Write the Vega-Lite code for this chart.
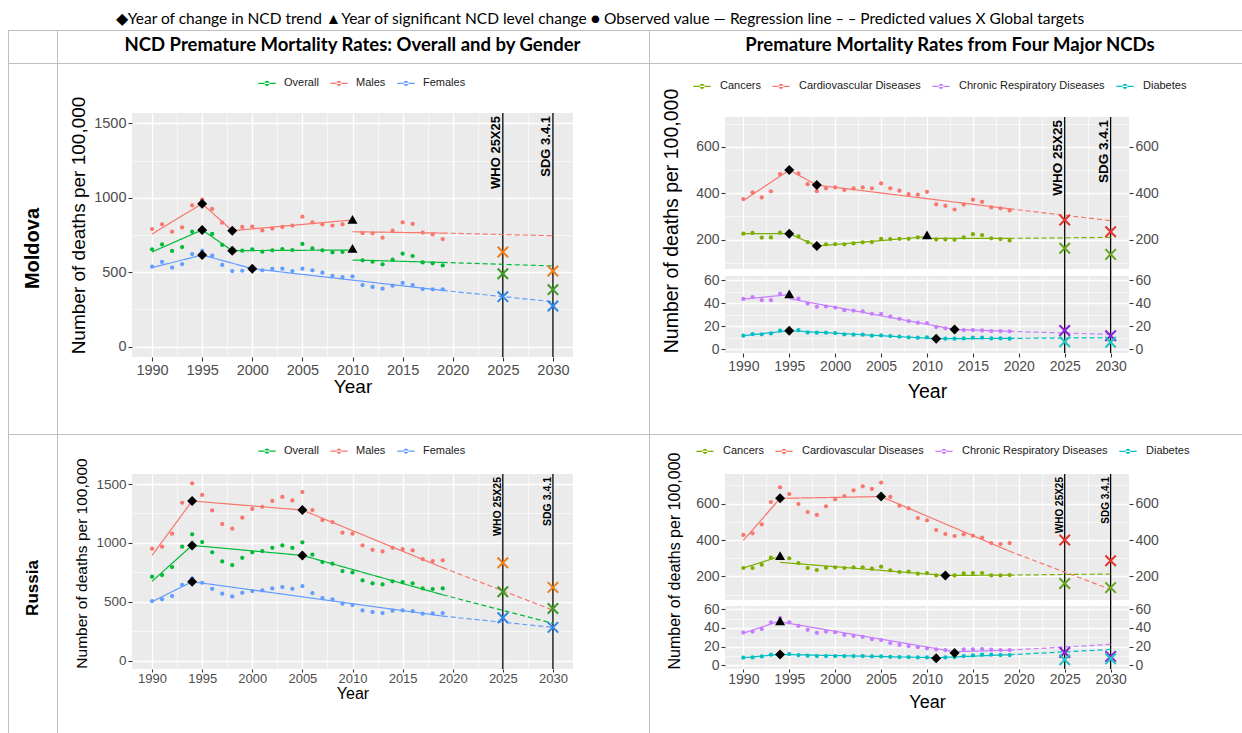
{
"$schema": "https://vega.github.io/schema/vega-lite/v6.json",
"padding": 0,
"background": "white",
"columns": 11,
"spacing": 0,
"bounds": "flush",
"resolve": {
  "scale": {"color": "independent", "stroke": "independent", "shape": "independent", "strokeDash": "independent"},
  "legend": {"color": "independent", "stroke": "independent", "shape": "independent", "strokeDash": "independent"}
},
"config": {
  "view": {"stroke": null},
  "font": "Liberation Sans",
  "axis": {"domain": false, "tickColor": "#333333", "tickSize": 4, "tickWidth": 1.1, "labelColor": "#4D4D4D", "labelFont": "Liberation Sans", "labelPadding": 2, "titleFont": "Liberation Sans", "titleFontWeight": "normal", "titleColor": "#000000", "gridColor": "#FFFFFF", "labelOverlap": false, "labelFlush": false, "labelBound": false},
  "legend": {"labelFont": "Liberation Sans", "labelFontSize": 11, "labelColor": "#1A1A1A", "padding": 0}
},
"datasets": {
  "none": [],
  "goals": [{"goal": "WHO 25X25", "year": 2025}, {"goal": "SDG 3.4.1", "year": 2030}],
  "md_g_obs": [
    {"series":"Males","year":1990,"rate":790},{"series":"Males","year":1991,"rate":822},{"series":"Males","year":1992,"rate":772},{"series":"Males","year":1993,"rate":801},{"series":"Males","year":1994,"rate":949},{"series":"Males","year":1995,"rate":988},{"series":"Males","year":1996,"rate":925},{"series":"Males","year":1997,"rate":833},{"series":"Males","year":1998,"rate":784},{"series":"Males","year":1999,"rate":804},{"series":"Males","year":2000,"rate":806},{"series":"Males","year":2001,"rate":781},{"series":"Males","year":2002,"rate":793},{"series":"Males","year":2003,"rate":804},{"series":"Males","year":2004,"rate":813},{"series":"Males","year":2005,"rate":873},{"series":"Males","year":2006,"rate":835},{"series":"Males","year":2007,"rate":822},{"series":"Males","year":2008,"rate":813},{"series":"Males","year":2009,"rate":822},{"series":"Males","year":2010,"rate":850},{"series":"Males","year":2011,"rate":763},{"series":"Males","year":2012,"rate":761},{"series":"Males","year":2013,"rate":732},{"series":"Males","year":2014,"rate":779},{"series":"Males","year":2015,"rate":835},{"series":"Males","year":2016,"rate":824},{"series":"Males","year":2017,"rate":766},{"series":"Males","year":2018,"rate":754},{"series":"Males","year":2019,"rate":723},
    {"series":"Overall","year":1990,"rate":654},{"series":"Overall","year":1991,"rate":687},{"series":"Overall","year":1992,"rate":643},{"series":"Overall","year":1993,"rate":669},{"series":"Overall","year":1994,"rate":772},{"series":"Overall","year":1995,"rate":797},{"series":"Overall","year":1996,"rate":757},{"series":"Overall","year":1997,"rate":683},{"series":"Overall","year":1998,"rate":645},{"series":"Overall","year":1999,"rate":645},{"series":"Overall","year":2000,"rate":654},{"series":"Overall","year":2001,"rate":638},{"series":"Overall","year":2002,"rate":647},{"series":"Overall","year":2003,"rate":656},{"series":"Overall","year":2004,"rate":649},{"series":"Overall","year":2005,"rate":690},{"series":"Overall","year":2006,"rate":660},{"series":"Overall","year":2007,"rate":647},{"series":"Overall","year":2008,"rate":634},{"series":"Overall","year":2009,"rate":636},{"series":"Overall","year":2010,"rate":655},{"series":"Overall","year":2011,"rate":580},{"series":"Overall","year":2012,"rate":571},{"series":"Overall","year":2013,"rate":553},{"series":"Overall","year":2014,"rate":584},{"series":"Overall","year":2015,"rate":625},{"series":"Overall","year":2016,"rate":609},{"series":"Overall","year":2017,"rate":566},{"series":"Overall","year":2018,"rate":560},{"series":"Overall","year":2019,"rate":546},
    {"series":"Females","year":1990,"rate":537},{"series":"Females","year":1991,"rate":569},{"series":"Females","year":1992,"rate":531},{"series":"Females","year":1993,"rate":555},{"series":"Females","year":1994,"rate":622},{"series":"Females","year":1995,"rate":643},{"series":"Females","year":1996,"rate":611},{"series":"Females","year":1997,"rate":549},{"series":"Females","year":1998,"rate":508},{"series":"Females","year":1999,"rate":510},{"series":"Females","year":2000,"rate":524},{"series":"Females","year":2001,"rate":513},{"series":"Females","year":2002,"rate":522},{"series":"Females","year":2003,"rate":524},{"series":"Females","year":2004,"rate":508},{"series":"Females","year":2005,"rate":524},{"series":"Females","year":2006,"rate":513},{"series":"Females","year":2007,"rate":497},{"series":"Females","year":2008,"rate":475},{"series":"Females","year":2009,"rate":468},{"series":"Females","year":2010,"rate":472},{"series":"Females","year":2011,"rate":414},{"series":"Females","year":2012,"rate":401},{"series":"Females","year":2013,"rate":390},{"series":"Females","year":2014,"rate":410},{"series":"Females","year":2015,"rate":428},{"series":"Females","year":2016,"rate":414},{"series":"Females","year":2017,"rate":387},{"series":"Females","year":2018,"rate":385},{"series":"Females","year":2019,"rate":385}
  ],
  "md_g_fit": [
    {"series":"Males","seg":1,"part":"fit","year":1990,"rate":757},{"series":"Males","seg":1,"part":"fit","year":1995,"rate":960},{"series":"Males","seg":1,"part":"fit","year":1998,"rate":779},{"series":"Males","seg":1,"part":"fit","year":2010,"rate":851},
    {"series":"Males","seg":2,"part":"fit","year":2010,"rate":772},{"series":"Males","seg":2,"part":"fit","year":2019,"rate":763},
    {"series":"Males","seg":3,"part":"pred","year":2019,"rate":763},{"series":"Males","seg":3,"part":"pred","year":2030,"rate":745},
    {"series":"Overall","seg":1,"part":"fit","year":1990,"rate":636},{"series":"Overall","seg":1,"part":"fit","year":1995,"rate":784},{"series":"Overall","seg":1,"part":"fit","year":1998,"rate":645},{"series":"Overall","seg":1,"part":"fit","year":2010,"rate":649},
    {"series":"Overall","seg":2,"part":"fit","year":2010,"rate":582},{"series":"Overall","seg":2,"part":"fit","year":2019,"rate":566},
    {"series":"Overall","seg":3,"part":"pred","year":2019,"rate":566},{"series":"Overall","seg":3,"part":"pred","year":2030,"rate":542},
    {"series":"Females","seg":1,"part":"fit","year":1990,"rate":531},{"series":"Females","seg":1,"part":"fit","year":1995,"rate":616},{"series":"Females","seg":1,"part":"fit","year":2000,"rate":524},{"series":"Females","seg":1,"part":"fit","year":2019,"rate":378},
    {"series":"Females","seg":2,"part":"pred","year":2019,"rate":378},{"series":"Females","seg":2,"part":"pred","year":2030,"rate":302}
  ],
  "md_g_ev": [
    {"series":"Males","event":"trend","year":1995,"rate":960},{"series":"Males","event":"trend","year":1998,"rate":779},
    {"series":"Overall","event":"trend","year":1995,"rate":784},{"series":"Overall","event":"trend","year":1998,"rate":645},
    {"series":"Females","event":"trend","year":1995,"rate":616},{"series":"Females","event":"trend","year":2000,"rate":524},
    {"series":"Males","event":"level","year":2010,"rate":855},{"series":"Overall","event":"level","year":2010,"rate":660}
  ],
  "md_g_tg": [
    {"series":"Males","year":2025,"rate":636},{"series":"Males","year":2030,"rate":508},
    {"series":"Overall","year":2025,"rate":490},{"series":"Overall","year":2030,"rate":383},
    {"series":"Females","year":2025,"rate":336},{"series":"Females","year":2030,"rate":273}
  ],
  "md_n_obs": [
    {"series":"Cardiovascular Diseases","year":1990,"rate":375},{"series":"Cardiovascular Diseases","year":1991,"rate":404},{"series":"Cardiovascular Diseases","year":1992,"rate":382},{"series":"Cardiovascular Diseases","year":1993,"rate":408},{"series":"Cardiovascular Diseases","year":1994,"rate":482},{"series":"Cardiovascular Diseases","year":1995,"rate":500},{"series":"Cardiovascular Diseases","year":1996,"rate":485},{"series":"Cardiovascular Diseases","year":1997,"rate":439},{"series":"Cardiovascular Diseases","year":1998,"rate":409},{"series":"Cardiovascular Diseases","year":1999,"rate":421},{"series":"Cardiovascular Diseases","year":2000,"rate":425},{"series":"Cardiovascular Diseases","year":2001,"rate":414},{"series":"Cardiovascular Diseases","year":2002,"rate":421},{"series":"Cardiovascular Diseases","year":2003,"rate":425},{"series":"Cardiovascular Diseases","year":2004,"rate":421},{"series":"Cardiovascular Diseases","year":2005,"rate":442},{"series":"Cardiovascular Diseases","year":2006,"rate":421},{"series":"Cardiovascular Diseases","year":2007,"rate":411},{"series":"Cardiovascular Diseases","year":2008,"rate":396},{"series":"Cardiovascular Diseases","year":2009,"rate":394},{"series":"Cardiovascular Diseases","year":2010,"rate":406},{"series":"Cardiovascular Diseases","year":2011,"rate":352},{"series":"Cardiovascular Diseases","year":2012,"rate":346},{"series":"Cardiovascular Diseases","year":2013,"rate":330},{"series":"Cardiovascular Diseases","year":2014,"rate":351},{"series":"Cardiovascular Diseases","year":2015,"rate":372},{"series":"Cardiovascular Diseases","year":2016,"rate":363},{"series":"Cardiovascular Diseases","year":2017,"rate":339},{"series":"Cardiovascular Diseases","year":2018,"rate":335},{"series":"Cardiovascular Diseases","year":2019,"rate":326},
    {"series":"Cancers","year":1990,"rate":226},{"series":"Cancers","year":1991,"rate":229},{"series":"Cancers","year":1992,"rate":209},{"series":"Cancers","year":1993,"rate":210},{"series":"Cancers","year":1994,"rate":230},{"series":"Cancers","year":1995,"rate":226},{"series":"Cancers","year":1996,"rate":214},{"series":"Cancers","year":1997,"rate":190},{"series":"Cancers","year":1998,"rate":175},{"series":"Cancers","year":1999,"rate":180},{"series":"Cancers","year":2000,"rate":181},{"series":"Cancers","year":2001,"rate":180},{"series":"Cancers","year":2002,"rate":184},{"series":"Cancers","year":2003,"rate":189},{"series":"Cancers","year":2004,"rate":190},{"series":"Cancers","year":2005,"rate":204},{"series":"Cancers","year":2006,"rate":203},{"series":"Cancers","year":2007,"rate":204},{"series":"Cancers","year":2008,"rate":204},{"series":"Cancers","year":2009,"rate":210},{"series":"Cancers","year":2010,"rate":212},{"series":"Cancers","year":2011,"rate":201},{"series":"Cancers","year":2012,"rate":201},{"series":"Cancers","year":2013,"rate":200},{"series":"Cancers","year":2014,"rate":210},{"series":"Cancers","year":2015,"rate":224},{"series":"Cancers","year":2016,"rate":220},{"series":"Cancers","year":2017,"rate":206},{"series":"Cancers","year":2018,"rate":203},{"series":"Cancers","year":2019,"rate":197},
    {"series":"Chronic Respiratory Diseases","year":1990,"rate":43.8},{"series":"Chronic Respiratory Diseases","year":1991,"rate":45.3},{"series":"Chronic Respiratory Diseases","year":1992,"rate":42.7},{"series":"Chronic Respiratory Diseases","year":1993,"rate":42.7},{"series":"Chronic Respiratory Diseases","year":1994,"rate":48.2},{"series":"Chronic Respiratory Diseases","year":1995,"rate":48.0},{"series":"Chronic Respiratory Diseases","year":1996,"rate":44.1},{"series":"Chronic Respiratory Diseases","year":1997,"rate":39.8},{"series":"Chronic Respiratory Diseases","year":1998,"rate":36.9},{"series":"Chronic Respiratory Diseases","year":1999,"rate":37.2},{"series":"Chronic Respiratory Diseases","year":2000,"rate":36.3},{"series":"Chronic Respiratory Diseases","year":2001,"rate":34.0},{"series":"Chronic Respiratory Diseases","year":2002,"rate":33.7},{"series":"Chronic Respiratory Diseases","year":2003,"rate":32.9},{"series":"Chronic Respiratory Diseases","year":2004,"rate":30.9},{"series":"Chronic Respiratory Diseases","year":2005,"rate":30.9},{"series":"Chronic Respiratory Diseases","year":2006,"rate":28.3},{"series":"Chronic Respiratory Diseases","year":2007,"rate":26.5},{"series":"Chronic Respiratory Diseases","year":2008,"rate":24.5},{"series":"Chronic Respiratory Diseases","year":2009,"rate":23.1},{"series":"Chronic Respiratory Diseases","year":2010,"rate":22.8},{"series":"Chronic Respiratory Diseases","year":2011,"rate":19.3},{"series":"Chronic Respiratory Diseases","year":2012,"rate":18.2},{"series":"Chronic Respiratory Diseases","year":2013,"rate":17.3},{"series":"Chronic Respiratory Diseases","year":2014,"rate":16.7},{"series":"Chronic Respiratory Diseases","year":2015,"rate":16.7},{"series":"Chronic Respiratory Diseases","year":2016,"rate":16.4},{"series":"Chronic Respiratory Diseases","year":2017,"rate":15.9},{"series":"Chronic Respiratory Diseases","year":2018,"rate":15.9},{"series":"Chronic Respiratory Diseases","year":2019,"rate":15.6},
    {"series":"Diabetes","year":1990,"rate":11.8},{"series":"Diabetes","year":1991,"rate":13.3},{"series":"Diabetes","year":1992,"rate":13.0},{"series":"Diabetes","year":1993,"rate":13.8},{"series":"Diabetes","year":1994,"rate":16.2},{"series":"Diabetes","year":1995,"rate":16.2},{"series":"Diabetes","year":1996,"rate":16.7},{"series":"Diabetes","year":1997,"rate":14.7},{"series":"Diabetes","year":1998,"rate":14.4},{"series":"Diabetes","year":1999,"rate":14.4},{"series":"Diabetes","year":2000,"rate":14.1},{"series":"Diabetes","year":2001,"rate":13.0},{"series":"Diabetes","year":2002,"rate":12.7},{"series":"Diabetes","year":2003,"rate":12.7},{"series":"Diabetes","year":2004,"rate":11.8},{"series":"Diabetes","year":2005,"rate":12.1},{"series":"Diabetes","year":2006,"rate":11.5},{"series":"Diabetes","year":2007,"rate":11.0},{"series":"Diabetes","year":2008,"rate":10.4},{"series":"Diabetes","year":2009,"rate":10.1},{"series":"Diabetes","year":2010,"rate":10.4},{"series":"Diabetes","year":2011,"rate":9.2},{"series":"Diabetes","year":2012,"rate":9.2},{"series":"Diabetes","year":2013,"rate":9.2},{"series":"Diabetes","year":2014,"rate":9.5},{"series":"Diabetes","year":2015,"rate":10.1},{"series":"Diabetes","year":2016,"rate":10.1},{"series":"Diabetes","year":2017,"rate":9.5},{"series":"Diabetes","year":2018,"rate":9.5},{"series":"Diabetes","year":2019,"rate":9.2}
  ],
  "md_n_fit": [
    {"series":"Cardiovascular Diseases","seg":1,"part":"fit","year":1990,"rate":368},{"series":"Cardiovascular Diseases","seg":1,"part":"fit","year":1995,"rate":500},{"series":"Cardiovascular Diseases","seg":1,"part":"fit","year":1998,"rate":435},{"series":"Cardiovascular Diseases","seg":1,"part":"fit","year":2019,"rate":333},
    {"series":"Cardiovascular Diseases","seg":2,"part":"pred","year":2019,"rate":333},{"series":"Cardiovascular Diseases","seg":2,"part":"pred","year":2030,"rate":282},
    {"series":"Cancers","seg":1,"part":"fit","year":1990,"rate":226},{"series":"Cancers","seg":1,"part":"fit","year":1995,"rate":226},{"series":"Cancers","seg":1,"part":"fit","year":1998,"rate":173},{"series":"Cancers","seg":1,"part":"fit","year":2010,"rate":213},
    {"series":"Cancers","seg":2,"part":"fit","year":2010,"rate":206},{"series":"Cancers","seg":2,"part":"fit","year":2019,"rate":206},
    {"series":"Cancers","seg":3,"part":"pred","year":2019,"rate":206},{"series":"Cancers","seg":3,"part":"pred","year":2030,"rate":210},
    {"series":"Chronic Respiratory Diseases","seg":1,"part":"fit","year":1990,"rate":43.6},{"series":"Chronic Respiratory Diseases","seg":1,"part":"fit","year":1995,"rate":47.5},
    {"series":"Chronic Respiratory Diseases","seg":2,"part":"fit","year":1995,"rate":44.0},{"series":"Chronic Respiratory Diseases","seg":2,"part":"fit","year":2013,"rate":17.3},{"series":"Chronic Respiratory Diseases","seg":2,"part":"fit","year":2019,"rate":15.6},
    {"series":"Chronic Respiratory Diseases","seg":3,"part":"pred","year":2019,"rate":15.6},{"series":"Chronic Respiratory Diseases","seg":3,"part":"pred","year":2030,"rate":13.0},
    {"series":"Diabetes","seg":1,"part":"fit","year":1990,"rate":11.8},{"series":"Diabetes","seg":1,"part":"fit","year":1995,"rate":16.2},{"series":"Diabetes","seg":1,"part":"fit","year":2011,"rate":9.2},{"series":"Diabetes","seg":1,"part":"fit","year":2019,"rate":9.5},
    {"series":"Diabetes","seg":2,"part":"pred","year":2019,"rate":9.5},{"series":"Diabetes","seg":2,"part":"pred","year":2030,"rate":10.1}
  ],
  "md_n_ev": [
    {"series":"Cardiovascular Diseases","event":"trend","year":1995,"rate":500},{"series":"Cardiovascular Diseases","event":"trend","year":1998,"rate":435},
    {"series":"Cancers","event":"trend","year":1995,"rate":226},{"series":"Cancers","event":"trend","year":1998,"rate":173},{"series":"Cancers","event":"level","year":2010,"rate":221},
    {"series":"Chronic Respiratory Diseases","event":"level","year":1995,"rate":48.2},{"series":"Chronic Respiratory Diseases","event":"trend","year":2013,"rate":17.3},
    {"series":"Diabetes","event":"trend","year":1995,"rate":16.2},{"series":"Diabetes","event":"trend","year":2011,"rate":9.2}
  ],
  "md_n_tg": [
    {"series":"Cardiovascular Diseases","year":2025,"rate":285},{"series":"Cardiovascular Diseases","year":2030,"rate":234},
    {"series":"Cancers","year":2025,"rate":163},{"series":"Cancers","year":2030,"rate":137},
    {"series":"Chronic Respiratory Diseases","year":2025,"rate":16.4},{"series":"Chronic Respiratory Diseases","year":2030,"rate":11.8},
    {"series":"Diabetes","year":2025,"rate":6.6},{"series":"Diabetes","year":2030,"rate":6.1}
  ],
  "ru_g_obs": [
    {"series":"Males","year":1990,"rate":951},{"series":"Males","year":1991,"rate":968},{"series":"Males","year":1992,"rate":1078},{"series":"Males","year":1993,"rate":1341},{"series":"Males","year":1994,"rate":1506},{"series":"Males","year":1995,"rate":1407},{"series":"Males","year":1996,"rate":1276},{"series":"Males","year":1997,"rate":1160},{"series":"Males","year":1998,"rate":1121},{"series":"Males","year":1999,"rate":1214},{"series":"Males","year":2000,"rate":1288},{"series":"Males","year":2001,"rate":1307},{"series":"Males","year":2002,"rate":1356},{"series":"Males","year":2003,"rate":1390},{"series":"Males","year":2004,"rate":1361},{"series":"Males","year":2005,"rate":1432},{"series":"Males","year":2006,"rate":1279},{"series":"Males","year":2007,"rate":1194},{"series":"Males","year":2008,"rate":1177},{"series":"Males","year":2009,"rate":1087},{"series":"Males","year":2010,"rate":1078},{"series":"Males","year":2011,"rate":979},{"series":"Males","year":2012,"rate":942},{"series":"Males","year":2013,"rate":928},{"series":"Males","year":2014,"rate":959},{"series":"Males","year":2015,"rate":948},{"series":"Males","year":2016,"rate":937},{"series":"Males","year":2017,"rate":863},{"series":"Males","year":2018,"rate":846},{"series":"Males","year":2019,"rate":852},
    {"series":"Overall","year":1990,"rate":713},{"series":"Overall","year":1991,"rate":727},{"series":"Overall","year":1992,"rate":795},{"series":"Overall","year":1993,"rate":968},{"series":"Overall","year":1994,"rate":1073},{"series":"Overall","year":1995,"rate":1007},{"series":"Overall","year":1996,"rate":920},{"series":"Overall","year":1997,"rate":843},{"series":"Overall","year":1998,"rate":812},{"series":"Overall","year":1999,"rate":874},{"series":"Overall","year":2000,"rate":920},{"series":"Overall","year":2001,"rate":931},{"series":"Overall","year":2002,"rate":959},{"series":"Overall","year":2003,"rate":979},{"series":"Overall","year":2004,"rate":957},{"series":"Overall","year":2005,"rate":1005},{"series":"Overall","year":2006,"rate":900},{"series":"Overall","year":2007,"rate":838},{"series":"Overall","year":2008,"rate":824},{"series":"Overall","year":2009,"rate":761},{"series":"Overall","year":2010,"rate":750},{"series":"Overall","year":2011,"rate":682},{"series":"Overall","year":2012,"rate":657},{"series":"Overall","year":2013,"rate":648},{"series":"Overall","year":2014,"rate":674},{"series":"Overall","year":2015,"rate":668},{"series":"Overall","year":2016,"rate":657},{"series":"Overall","year":2017,"rate":614},{"series":"Overall","year":2018,"rate":608},{"series":"Overall","year":2019,"rate":614},
    {"series":"Females","year":1990,"rate":507},{"series":"Females","year":1991,"rate":521},{"series":"Females","year":1992,"rate":549},{"series":"Females","year":1993,"rate":645},{"series":"Females","year":1994,"rate":699},{"series":"Females","year":1995,"rate":662},{"series":"Females","year":1996,"rate":611},{"series":"Females","year":1997,"rate":569},{"series":"Females","year":1998,"rate":546},{"series":"Females","year":1999,"rate":577},{"series":"Females","year":2000,"rate":591},{"series":"Females","year":2001,"rate":597},{"series":"Females","year":2002,"rate":614},{"series":"Females","year":2003,"rate":625},{"series":"Females","year":2004,"rate":611},{"series":"Females","year":2005,"rate":634},{"series":"Females","year":2006,"rate":574},{"series":"Females","year":2007,"rate":532},{"series":"Females","year":2008,"rate":521},{"series":"Females","year":2009,"rate":484},{"series":"Females","year":2010,"rate":473},{"series":"Females","year":2011,"rate":427},{"series":"Females","year":2012,"rate":413},{"series":"Females","year":2013,"rate":405},{"series":"Females","year":2014,"rate":425},{"series":"Females","year":2015,"rate":427},{"series":"Females","year":2016,"rate":422},{"series":"Females","year":2017,"rate":399},{"series":"Females","year":2018,"rate":402},{"series":"Females","year":2019,"rate":405}
  ],
  "ru_g_fit": [
    {"series":"Males","seg":1,"part":"fit","year":1990,"rate":894},{"series":"Males","seg":1,"part":"fit","year":1994,"rate":1356},{"series":"Males","seg":1,"part":"fit","year":2005,"rate":1279},{"series":"Males","seg":1,"part":"fit","year":2019,"rate":790},
    {"series":"Males","seg":2,"part":"pred","year":2019,"rate":790},{"series":"Males","seg":2,"part":"pred","year":2030,"rate":430},
    {"series":"Overall","seg":1,"part":"fit","year":1990,"rate":674},{"series":"Overall","seg":1,"part":"fit","year":1994,"rate":979},{"series":"Overall","seg":1,"part":"fit","year":2005,"rate":894},{"series":"Overall","seg":1,"part":"fit","year":2019,"rate":560},
    {"series":"Overall","seg":2,"part":"pred","year":2019,"rate":560},{"series":"Overall","seg":2,"part":"pred","year":2030,"rate":317},
    {"series":"Females","seg":1,"part":"fit","year":1990,"rate":501},{"series":"Females","seg":1,"part":"fit","year":1994,"rate":671},{"series":"Females","seg":1,"part":"fit","year":2019,"rate":379},
    {"series":"Females","seg":2,"part":"pred","year":2019,"rate":379},{"series":"Females","seg":2,"part":"pred","year":2030,"rate":283}
  ],
  "ru_g_ev": [
    {"series":"Males","event":"trend","year":1994,"rate":1356},{"series":"Males","event":"trend","year":2005,"rate":1279},
    {"series":"Overall","event":"trend","year":1994,"rate":979},{"series":"Overall","event":"trend","year":2005,"rate":894},
    {"series":"Females","event":"trend","year":1994,"rate":671}
  ],
  "ru_g_tg": [
    {"series":"Males","year":2025,"rate":832},{"series":"Males","year":2030,"rate":623},
    {"series":"Overall","year":2025,"rate":586},{"series":"Overall","year":2030,"rate":444},
    {"series":"Females","year":2025,"rate":365},{"series":"Females","year":2030,"rate":283}
  ],
  "ru_n_obs": [
    {"series":"Cardiovascular Diseases","year":1990,"rate":428},{"series":"Cardiovascular Diseases","year":1991,"rate":437},{"series":"Cardiovascular Diseases","year":1992,"rate":486},{"series":"Cardiovascular Diseases","year":1993,"rate":609},{"series":"Cardiovascular Diseases","year":1994,"rate":690},{"series":"Cardiovascular Diseases","year":1995,"rate":653},{"series":"Cardiovascular Diseases","year":1996,"rate":598},{"series":"Cardiovascular Diseases","year":1997,"rate":554},{"series":"Cardiovascular Diseases","year":1998,"rate":538},{"series":"Cardiovascular Diseases","year":1999,"rate":585},{"series":"Cardiovascular Diseases","year":2000,"rate":624},{"series":"Cardiovascular Diseases","year":2001,"rate":642},{"series":"Cardiovascular Diseases","year":2002,"rate":673},{"series":"Cardiovascular Diseases","year":2003,"rate":695},{"series":"Cardiovascular Diseases","year":2004,"rate":681},{"series":"Cardiovascular Diseases","year":2005,"rate":716},{"series":"Cardiovascular Diseases","year":2006,"rate":637},{"series":"Cardiovascular Diseases","year":2007,"rate":589},{"series":"Cardiovascular Diseases","year":2008,"rate":574},{"series":"Cardiovascular Diseases","year":2009,"rate":521},{"series":"Cardiovascular Diseases","year":2010,"rate":508},{"series":"Cardiovascular Diseases","year":2011,"rate":455},{"series":"Cardiovascular Diseases","year":2012,"rate":433},{"series":"Cardiovascular Diseases","year":2013,"rate":422},{"series":"Cardiovascular Diseases","year":2014,"rate":431},{"series":"Cardiovascular Diseases","year":2015,"rate":424},{"series":"Cardiovascular Diseases","year":2016,"rate":413},{"series":"Cardiovascular Diseases","year":2017,"rate":383},{"series":"Cardiovascular Diseases","year":2018,"rate":378},{"series":"Cardiovascular Diseases","year":2019,"rate":383},
    {"series":"Cancers","year":1990,"rate":246},{"series":"Cancers","year":1991,"rate":246},{"series":"Cancers","year":1992,"rate":264},{"series":"Cancers","year":1993,"rate":303},{"series":"Cancers","year":1994,"rate":305},{"series":"Cancers","year":1995,"rate":299},{"series":"Cancers","year":1996,"rate":273},{"series":"Cancers","year":1997,"rate":246},{"series":"Cancers","year":1998,"rate":235},{"series":"Cancers","year":1999,"rate":248},{"series":"Cancers","year":2000,"rate":250},{"series":"Cancers","year":2001,"rate":246},{"series":"Cancers","year":2002,"rate":250},{"series":"Cancers","year":2003,"rate":250},{"series":"Cancers","year":2004,"rate":242},{"series":"Cancers","year":2005,"rate":253},{"series":"Cancers","year":2006,"rate":233},{"series":"Cancers","year":2007,"rate":224},{"series":"Cancers","year":2008,"rate":226},{"series":"Cancers","year":2009,"rate":215},{"series":"Cancers","year":2010,"rate":218},{"series":"Cancers","year":2011,"rate":205},{"series":"Cancers","year":2012,"rate":205},{"series":"Cancers","year":2013,"rate":205},{"series":"Cancers","year":2014,"rate":216},{"series":"Cancers","year":2015,"rate":218},{"series":"Cancers","year":2016,"rate":218},{"series":"Cancers","year":2017,"rate":205},{"series":"Cancers","year":2018,"rate":205},{"series":"Cancers","year":2019,"rate":207},
    {"series":"Chronic Respiratory Diseases","year":1990,"rate":35.1},{"series":"Chronic Respiratory Diseases","year":1991,"rate":36.2},{"series":"Chronic Respiratory Diseases","year":1992,"rate":39.0},{"series":"Chronic Respiratory Diseases","year":1993,"rate":46.1},{"series":"Chronic Respiratory Diseases","year":1994,"rate":50.4},{"series":"Chronic Respiratory Diseases","year":1995,"rate":46.1},{"series":"Chronic Respiratory Diseases","year":1996,"rate":42.2},{"series":"Chronic Respiratory Diseases","year":1997,"rate":38.0},{"series":"Chronic Respiratory Diseases","year":1998,"rate":34.8},{"series":"Chronic Respiratory Diseases","year":1999,"rate":36.2},{"series":"Chronic Respiratory Diseases","year":2000,"rate":35.5},{"series":"Chronic Respiratory Diseases","year":2001,"rate":32.7},{"series":"Chronic Respiratory Diseases","year":2002,"rate":31.6},{"series":"Chronic Respiratory Diseases","year":2003,"rate":30.5},{"series":"Chronic Respiratory Diseases","year":2004,"rate":28.0},{"series":"Chronic Respiratory Diseases","year":2005,"rate":27.0},{"series":"Chronic Respiratory Diseases","year":2006,"rate":23.8},{"series":"Chronic Respiratory Diseases","year":2007,"rate":22.0},{"series":"Chronic Respiratory Diseases","year":2008,"rate":20.6},{"series":"Chronic Respiratory Diseases","year":2009,"rate":19.5},{"series":"Chronic Respiratory Diseases","year":2010,"rate":18.1},{"series":"Chronic Respiratory Diseases","year":2011,"rate":17.0},{"series":"Chronic Respiratory Diseases","year":2012,"rate":16.3},{"series":"Chronic Respiratory Diseases","year":2013,"rate":14.5},{"series":"Chronic Respiratory Diseases","year":2014,"rate":17.0},{"series":"Chronic Respiratory Diseases","year":2015,"rate":17.0},{"series":"Chronic Respiratory Diseases","year":2016,"rate":17.4},{"series":"Chronic Respiratory Diseases","year":2017,"rate":16.7},{"series":"Chronic Respiratory Diseases","year":2018,"rate":16.3},{"series":"Chronic Respiratory Diseases","year":2019,"rate":16.3},
    {"series":"Diabetes","year":1990,"rate":8.2},{"series":"Diabetes","year":1991,"rate":8.5},{"series":"Diabetes","year":1992,"rate":9.6},{"series":"Diabetes","year":1993,"rate":11.4},{"series":"Diabetes","year":1994,"rate":11.7},{"series":"Diabetes","year":1995,"rate":12.1},{"series":"Diabetes","year":1996,"rate":11.0},{"series":"Diabetes","year":1997,"rate":10.3},{"series":"Diabetes","year":1998,"rate":9.9},{"series":"Diabetes","year":1999,"rate":9.9},{"series":"Diabetes","year":2000,"rate":9.9},{"series":"Diabetes","year":2001,"rate":9.9},{"series":"Diabetes","year":2002,"rate":9.9},{"series":"Diabetes","year":2003,"rate":9.9},{"series":"Diabetes","year":2004,"rate":9.6},{"series":"Diabetes","year":2005,"rate":9.6},{"series":"Diabetes","year":2006,"rate":9.2},{"series":"Diabetes","year":2007,"rate":8.9},{"series":"Diabetes","year":2008,"rate":8.9},{"series":"Diabetes","year":2009,"rate":8.5},{"series":"Diabetes","year":2010,"rate":8.5},{"series":"Diabetes","year":2011,"rate":7.8},{"series":"Diabetes","year":2012,"rate":8.5},{"series":"Diabetes","year":2013,"rate":8.9},{"series":"Diabetes","year":2014,"rate":9.9},{"series":"Diabetes","year":2015,"rate":10.6},{"series":"Diabetes","year":2016,"rate":11.4},{"series":"Diabetes","year":2017,"rate":11.4},{"series":"Diabetes","year":2018,"rate":11.0},{"series":"Diabetes","year":2019,"rate":11.0}
  ],
  "ru_n_fit": [
    {"series":"Cardiovascular Diseases","seg":1,"part":"fit","year":1990,"rate":398},{"series":"Cardiovascular Diseases","seg":1,"part":"fit","year":1994,"rate":629},{"series":"Cardiovascular Diseases","seg":1,"part":"fit","year":2005,"rate":639},{"series":"Cardiovascular Diseases","seg":1,"part":"fit","year":2019,"rate":338},
    {"series":"Cardiovascular Diseases","seg":2,"part":"pred","year":2019,"rate":338},{"series":"Cardiovascular Diseases","seg":2,"part":"pred","year":2030,"rate":128},
    {"series":"Cancers","seg":1,"part":"fit","year":1990,"rate":246},{"series":"Cancers","seg":1,"part":"fit","year":1994,"rate":310},
    {"series":"Cancers","seg":2,"part":"fit","year":1994,"rate":277},{"series":"Cancers","seg":2,"part":"fit","year":2012,"rate":205},{"series":"Cancers","seg":2,"part":"fit","year":2019,"rate":207},
    {"series":"Cancers","seg":3,"part":"pred","year":2019,"rate":207},{"series":"Cancers","seg":3,"part":"pred","year":2030,"rate":213},
    {"series":"Chronic Respiratory Diseases","seg":1,"part":"fit","year":1990,"rate":34.4},{"series":"Chronic Respiratory Diseases","seg":1,"part":"fit","year":1994,"rate":47.6},
    {"series":"Chronic Respiratory Diseases","seg":2,"part":"fit","year":1994,"rate":46.5},{"series":"Chronic Respiratory Diseases","seg":2,"part":"fit","year":2013,"rate":14.6},{"series":"Chronic Respiratory Diseases","seg":2,"part":"fit","year":2019,"rate":16.3},
    {"series":"Chronic Respiratory Diseases","seg":3,"part":"pred","year":2019,"rate":16.3},{"series":"Chronic Respiratory Diseases","seg":3,"part":"pred","year":2030,"rate":22.4},
    {"series":"Diabetes","seg":1,"part":"fit","year":1990,"rate":8.2},{"series":"Diabetes","seg":1,"part":"fit","year":1994,"rate":11.7},{"series":"Diabetes","seg":1,"part":"fit","year":2011,"rate":8.2},{"series":"Diabetes","seg":1,"part":"fit","year":2019,"rate":11.4},
    {"series":"Diabetes","seg":2,"part":"pred","year":2019,"rate":11.4},{"series":"Diabetes","seg":2,"part":"pred","year":2030,"rate":17.0}
  ],
  "ru_n_ev": [
    {"series":"Cardiovascular Diseases","event":"trend","year":1994,"rate":629},{"series":"Cardiovascular Diseases","event":"trend","year":2005,"rate":639},
    {"series":"Cancers","event":"level","year":1994,"rate":314},{"series":"Cancers","event":"trend","year":2012,"rate":205},
    {"series":"Chronic Respiratory Diseases","event":"level","year":1994,"rate":47.6},{"series":"Chronic Respiratory Diseases","event":"trend","year":2013,"rate":13.1},
    {"series":"Diabetes","event":"trend","year":1994,"rate":11.7},{"series":"Diabetes","event":"trend","year":2011,"rate":7.5}
  ],
  "ru_n_tg": [
    {"series":"Cardiovascular Diseases","year":2025,"rate":400},{"series":"Cardiovascular Diseases","year":2030,"rate":286},
    {"series":"Cancers","year":2025,"rate":161},{"series":"Cancers","year":2030,"rate":138},
    {"series":"Chronic Respiratory Diseases","year":2025,"rate":13.8},{"series":"Chronic Respiratory Diseases","year":2030,"rate":9.6},
    {"series":"Diabetes","year":2025,"rate":6.0},{"series":"Diabetes","year":2030,"rate":7.1}
  ]
},
"concat": [
  {"width":8,"height":30,"data":{"name":"none"},"mark":"point"},
  {"width":1,"height":30,"data":{"name":"none"},"mark":"point"},
  {"width":48,"height":30,"data":{"name":"none"},"mark":"point"},
  {"width":1,"height":30,"data":{"name":"none"},"mark":"point"},
  {"width":74,"height":30,"data":{"name":"none"},"mark":"point"},
  {"width":441,"height":30,"data":{"name":"none"},"mark":"point"},
  {"width":76,"height":30,"data":{"values":[{"t":"◆Year of change in NCD trend ▲Year of significant NCD level change ● Observed value — Regression line ‒ ‒ Predicted values    X Global targets"}]},"mark":{"type":"text","font":"Lato","fontSize":15.5,"color":"#000000","dx":-11,"dy":4,"align":"center","baseline":"middle"},"encoding":{"text":{"field":"t"}}},
  {"width":1,"height":30,"data":{"name":"none"},"mark":"point"},
  {"width":75,"height":30,"data":{"name":"none"},"mark":"point"},
  {"width":404,"height":30,"data":{"name":"none"},"mark":"point"},
  {"width":113,"height":30,"data":{"name":"none"},"mark":"point"},

  {"width":8,"height":1,"data":{"name":"none"},"mark":"point"},
  {"width":1,"height":1,"data":{"name":"none"},"mark":"point","view":{"fill":"#BFBFBF"}},
  {"width":48,"height":1,"data":{"name":"none"},"mark":"point","view":{"fill":"#BFBFBF"}},
  {"width":1,"height":1,"data":{"name":"none"},"mark":"point","view":{"fill":"#BFBFBF"}},
  {"width":74,"height":1,"data":{"name":"none"},"mark":"point","view":{"fill":"#BFBFBF"}},
  {"width":441,"height":1,"data":{"name":"none"},"mark":"point","view":{"fill":"#BFBFBF"}},
  {"width":76,"height":1,"data":{"name":"none"},"mark":"point","view":{"fill":"#BFBFBF"}},
  {"width":1,"height":1,"data":{"name":"none"},"mark":"point","view":{"fill":"#BFBFBF"}},
  {"width":75,"height":1,"data":{"name":"none"},"mark":"point","view":{"fill":"#BFBFBF"}},
  {"width":404,"height":1,"data":{"name":"none"},"mark":"point","view":{"fill":"#BFBFBF"}},
  {"width":113,"height":1,"data":{"name":"none"},"mark":"point","view":{"fill":"#BFBFBF"}},

  {"width":8,"height":32,"data":{"name":"none"},"mark":"point"},
  {"width":1,"height":32,"data":{"name":"none"},"mark":"point","view":{"fill":"#BFBFBF"}},
  {"width":48,"height":32,"data":{"name":"none"},"mark":"point"},
  {"width":1,"height":32,"data":{"name":"none"},"mark":"point","view":{"fill":"#BFBFBF"}},
  {"width":74,"height":32,"data":{"name":"none"},"mark":"point"},
  {"width":441,"height":32,"data":{"values":[{"t":"NCD Premature Mortality Rates: Overall and by Gender"}]},"mark":{"type":"text","font":"Lato","fontSize":18.5,"fontWeight":"bold","color":"#000000","dy":-2,"align":"center","baseline":"middle"},"encoding":{"text":{"field":"t"}}},
  {"width":76,"height":32,"data":{"name":"none"},"mark":"point"},
  {"width":1,"height":32,"data":{"name":"none"},"mark":"point","view":{"fill":"#BFBFBF"}},
  {"width":75,"height":32,"data":{"name":"none"},"mark":"point"},
  {"width":404,"height":32,"data":{"values":[{"t":"Premature Mortality  Rates from Four Major NCDs"}]},"mark":{"type":"text","font":"Lato","fontSize":18.5,"fontWeight":"bold","color":"#000000","dx":23,"dy":-2,"align":"center","baseline":"middle"},"encoding":{"text":{"field":"t"}}},
  {"width":113,"height":32,"data":{"name":"none"},"mark":"point"},

  {"width":8,"height":1,"data":{"name":"none"},"mark":"point"},
  {"width":1,"height":1,"data":{"name":"none"},"mark":"point","view":{"fill":"#BFBFBF"}},
  {"width":48,"height":1,"data":{"name":"none"},"mark":"point","view":{"fill":"#BFBFBF"}},
  {"width":1,"height":1,"data":{"name":"none"},"mark":"point","view":{"fill":"#BFBFBF"}},
  {"width":74,"height":1,"data":{"name":"none"},"mark":"point","view":{"fill":"#BFBFBF"}},
  {"width":441,"height":1,"data":{"name":"none"},"mark":"point","view":{"fill":"#BFBFBF"}},
  {"width":76,"height":1,"data":{"name":"none"},"mark":"point","view":{"fill":"#BFBFBF"}},
  {"width":1,"height":1,"data":{"name":"none"},"mark":"point","view":{"fill":"#BFBFBF"}},
  {"width":75,"height":1,"data":{"name":"none"},"mark":"point","view":{"fill":"#BFBFBF"}},
  {"width":404,"height":1,"data":{"name":"none"},"mark":"point","view":{"fill":"#BFBFBF"}},
  {"width":113,"height":1,"data":{"name":"none"},"mark":"point","view":{"fill":"#BFBFBF"}},

  {"width":8,"height":49,"data":{"name":"none"},"mark":"point"},
  {"width":1,"height":49,"data":{"name":"none"},"mark":"point","view":{"fill":"#BFBFBF"}},
  {"width":48,"height":49,"data":{"name":"none"},"mark":"point"},
  {"width":1,"height":49,"data":{"name":"none"},"mark":"point","view":{"fill":"#BFBFBF"}},
  {"width":74,"height":49,"data":{"name":"none"},"mark":"point"},
  {"width":441,"height":49,"data":{"name":"none"},"mark":"point"},
  {"width":76,"height":49,"data":{"name":"none"},"mark":"point"},
  {"width":1,"height":49,"data":{"name":"none"},"mark":"point","view":{"fill":"#BFBFBF"}},
  {"width":75,"height":49,"data":{"name":"none"},"mark":"point"},
  {"width":404,"height":49,"data":{"name":"none"},"mark":"point"},
  {"width":113,"height":49,"data":{"name":"none"},"mark":"point"},

  {"width":8,"height":244,"data":{"name":"none"},"mark":"point"},
  {"width":1,"height":244,"data":{"name":"none"},"mark":"point","view":{"fill":"#BFBFBF"}},
  {"width":48,"height":244,"data":{"values":[{"t":"Moldova"}]},"mark":{"type":"text","font":"Liberation Sans","fontSize":20,"fontWeight":"bold","color":"#000000","angle":270,"dx":-13.5,"align":"center","baseline":"middle"},"encoding":{"text":{"field":"t"}}},
  {"width":1,"height":244,"data":{"name":"none"},"mark":"point","view":{"fill":"#BFBFBF"}},
  {"width":74,"height":244,"data":{"name":"none"},"mark":"point"},
  {"width":441,"height":244,"view":{"fill":"#EBEBEB"},
   "resolve":{"axis":{"x":"independent","y":"independent"},"legend":{"color":"independent"}},
   "layer":[
    {"data":{"name":"goals"},"mark":{"type":"rule","color":"#000000","strokeWidth":1.3},
     "encoding":{"x":{"field":"year","type":"quantitative","scale":{"domain":[1988,2032],"nice":false,"zero":false},
       "axis":{"orient":"bottom","values":[1990,1992.5,1995,1997.5,2000,2002.5,2005,2007.5,2010,2012.5,2015,2017.5,2020,2022.5,2025,2027.5,2030],"format":"d","labelExpr":"datum.value % 5 === 0 ? datum.label : ''","tickOpacity":{"condition":{"test":"datum.value % 5 === 0","value":1},"value":0},"grid":true,"gridWidth":{"condition":{"test":"datum.value % 5 === 0","value":1.3},"value":0.6},"labelFontSize":14.5,"title":"Year","titleFontSize":19,"titlePadding":1}}}},
    {"data":{"name":"md_g_fit"},"mark":{"type":"line","strokeWidth":1.2},
     "encoding":{"x":{"field":"year","type":"quantitative","scale":{"domain":[1988,2032],"nice":false,"zero":false},"axis":null},
      "y":{"field":"rate","type":"quantitative","scale":{"domain":[-69,1569],"nice":false,"zero":false},
        "axis":{"orient":"left","values":[0,250,500,750,1000,1250,1500],"format":"d","labelExpr":"datum.value % 500 === 0 ? datum.label : ''","tickOpacity":{"condition":{"test":"datum.value % 500 === 0","value":1},"value":0},"grid":true,"gridWidth":{"condition":{"test":"datum.value % 500 === 0","value":1.3},"value":0.6},"labelFontSize":14.5,"title":"Number of deaths per 100,000","titleFontSize":19,"titlePadding":5.5,"titleY":112}},
      "color":{"field":"series","type":"nominal","scale":{"domain":["Overall","Males","Females"],"range":["#00BA38","#F8766D","#619CFF"]},"legend":null},
      "detail":{"field":"seg","type":"nominal"},
      "strokeDash":{"field":"part","type":"nominal","scale":{"domain":["fit","pred"],"range":[[1,0],[5,3]]},"legend":null}}},
    {"data":{"name":"md_g_obs"},"mark":{"type":"point","filled":true,"size":18,"opacity":1},
     "encoding":{"x":{"field":"year","type":"quantitative","scale":{"domain":[1988,2032],"nice":false,"zero":false},"axis":null},
      "y":{"field":"rate","type":"quantitative","scale":{"domain":[-69,1569],"nice":false,"zero":false},"axis":null},
      "color":{"field":"series","type":"nominal","scale":{"domain":["Overall","Males","Females"],"range":["#00BA38","#F8766D","#619CFF"]},
        "legend":{"orient":"none","legendX":126,"legendY":-38.7,"direction":"horizontal","title":null,"symbolType":"M-1,-0.07H1V0.07H-1Z M-0.3,0A0.3,0.3,0,1,0,0.3,0A0.3,0.3,0,1,0,-0.3,0Z","symbolSize":300,"symbolStrokeWidth":0,"labelOffset":8,"columnPadding":11,"labelFontSize":11}}}},
    {"data":{"name":"md_g_ev"},"mark":{"type":"point","filled":true,"color":"#000000","opacity":1,"size":100},
     "encoding":{"x":{"field":"year","type":"quantitative","scale":{"domain":[1988,2032],"nice":false,"zero":false},"axis":null},
      "y":{"field":"rate","type":"quantitative","scale":{"domain":[-69,1569],"nice":false,"zero":false},"axis":null},
      "shape":{"field":"event","type":"nominal","scale":{"domain":["trend","level"],"range":["diamond","triangle-up"]},"legend":null}}},
    {"data":{"name":"md_g_tg"},"mark":{"type":"point","shape":"M-1,-1L1,1M-1,1L1,-1","filled":false,"strokeWidth":2,"size":110,"opacity":1},
     "encoding":{"x":{"field":"year","type":"quantitative","scale":{"domain":[1988,2032],"nice":false,"zero":false},"axis":null},
      "y":{"field":"rate","type":"quantitative","scale":{"domain":[-69,1569],"nice":false,"zero":false},"axis":null},
      "stroke":{"field":"series","type":"nominal","scale":{"domain":["Overall","Males","Females"],"range":["#3E9B22","#EE7D1E","#2F86E6"]},"legend":null}}},
    {"data":{"name":"goals"},"mark":{"type":"text","angle":270,"align":"right","baseline":"bottom","fontWeight":"bold","fontSize":13,"font":"Liberation Sans","color":"#000000","dx":-3},
     "encoding":{"x":{"field":"year","type":"quantitative","scale":{"domain":[1988,2032],"nice":false,"zero":false},"axis":null},
      "y":{"datum":1569,"type":"quantitative","scale":{"domain":[-69,1569],"nice":false,"zero":false},"axis":null},
      "text":{"field":"goal"}}}
   ]},
  {"width":76,"height":244,"data":{"name":"none"},"mark":"point"},
  {"width":1,"height":244,"data":{"name":"none"},"mark":"point","view":{"fill":"#BFBFBF"}},
  {"width":75,"height":244,"data":{"name":"none"},"mark":"point"},
  {"width":404,"height":244,
   "view":{"fill":{"gradient":"linear","x1":0,"y1":0,"x2":0,"y2":1,"stops":[{"offset":0,"color":"#FFFFFF"},{"offset":0.0164,"color":"#FFFFFF"},{"offset":0.0164,"color":"#EBEBEB"},{"offset":0.6393,"color":"#EBEBEB"},{"offset":0.6393,"color":"#FFFFFF"},{"offset":0.668,"color":"#FFFFFF"},{"offset":0.668,"color":"#EBEBEB"},{"offset":0.9836,"color":"#EBEBEB"},{"offset":0.9836,"color":"#FFFFFF"},{"offset":1,"color":"#FFFFFF"}]}},
   "resolve":{"scale":{"y":"independent"},"axis":{"x":"independent","y":"independent"},"legend":{"color":"independent"}},
   "layer":[
    {"resolve":{"axis":{"x":"independent","y":"independent"},"legend":{"color":"independent"}},
     "layer":[
      {"data":{"name":"goals"},"mark":{"type":"rule","color":"#000000","strokeWidth":1.3},
       "encoding":{"x":{"field":"year","type":"quantitative","scale":{"domain":[1988,2032],"nice":false,"zero":false},"axis":null},
        "y":{"datum":728,"type":"quantitative","scale":{"domain":[74,728],"range":[156,4],"nice":false,"zero":false},"axis":null},
        "y2":{"datum":43.9}}},
      {"data":{"name":"md_n_fit"},"transform":[{"filter":{"field":"series","oneOf":["Cancers","Cardiovascular Diseases"]}}],
       "mark":{"type":"line","strokeWidth":1.2},
       "encoding":{"x":{"field":"year","type":"quantitative","scale":{"domain":[1988,2032],"nice":false,"zero":false},
          "axis":{"orient":"top","values":[1990,1992.5,1995,1997.5,2000,2002.5,2005,2007.5,2010,2012.5,2015,2017.5,2020,2022.5,2025,2027.5,2030],"grid":true,"gridWidth":{"condition":{"test":"datum.value % 5 === 0","value":1.3},"value":0.6},"labels":false,"ticks":false,"domain":false,"title":null}},
        "y":{"field":"rate","type":"quantitative","scale":{"domain":[74,728],"range":[156,4],"nice":false,"zero":false},
          "axis":{"orient":"left","values":[100,200,300,400,500,600,700],"format":"d","labelExpr":"datum.value % 200 === 0 ? datum.label : ''","tickOpacity":{"condition":{"test":"datum.value % 200 === 0","value":1},"value":0},"grid":true,"gridWidth":{"condition":{"test":"datum.value % 200 === 0","value":1.3},"value":0.6},"labelFontSize":14,"title":"Number of deaths per 100,000","titleFontSize":19.5,"titlePadding":14,"titleY":107.5}},
        "color":{"field":"series","type":"nominal","scale":{"domain":["Cancers","Cardiovascular Diseases","Chronic Respiratory Diseases","Diabetes"],"range":["#7CAE00","#F8766D","#C77CFF","#00BFC4"]},"legend":null},
        "detail":{"field":"seg","type":"nominal"},
        "strokeDash":{"field":"part","type":"nominal","scale":{"domain":["fit","pred"],"range":[[1,0],[5,3]]},"legend":null}}},
      {"data":{"name":"md_n_obs"},"transform":[{"filter":{"field":"series","oneOf":["Cancers","Cardiovascular Diseases"]}}],
       "mark":{"type":"point","filled":true,"size":18,"opacity":1},
       "encoding":{"x":{"field":"year","type":"quantitative","scale":{"domain":[1988,2032],"nice":false,"zero":false},"axis":null},
        "y":{"field":"rate","type":"quantitative","scale":{"domain":[74,728],"range":[156,4],"nice":false,"zero":false},
          "axis":{"orient":"right","values":[200,400,600],"format":"d","grid":false,"labelFontSize":14,"title":null}},
        "color":{"field":"series","type":"nominal","scale":{"domain":["Cancers","Cardiovascular Diseases","Chronic Respiratory Diseases","Diabetes"],"range":["#7CAE00","#F8766D","#C77CFF","#00BFC4"]},
          "legend":{"orient":"none","legendX":-32,"legendY":-35.7,"direction":"horizontal","title":null,"symbolType":"M-1,-0.07H1V0.07H-1Z M-0.3,0A0.3,0.3,0,1,0,0.3,0A0.3,0.3,0,1,0,-0.3,0Z","symbolSize":300,"symbolStrokeWidth":0,"labelOffset":9,"columnPadding":11,"labelFontSize":11}}}},
      {"data":{"name":"md_n_ev"},"transform":[{"filter":{"field":"series","oneOf":["Cancers","Cardiovascular Diseases"]}}],
       "mark":{"type":"point","filled":true,"color":"#000000","opacity":1,"size":100},
       "encoding":{"x":{"field":"year","type":"quantitative","scale":{"domain":[1988,2032],"nice":false,"zero":false},"axis":null},
        "y":{"field":"rate","type":"quantitative","scale":{"domain":[74,728],"range":[156,4],"nice":false,"zero":false},"axis":null},
        "shape":{"field":"event","type":"nominal","scale":{"domain":["trend","level"],"range":["diamond","triangle-up"]},"legend":null}}},
      {"data":{"name":"md_n_tg"},"transform":[{"filter":{"field":"series","oneOf":["Cancers","Cardiovascular Diseases"]}}],
       "mark":{"type":"point","shape":"M-1,-1L1,1M-1,1L1,-1","filled":false,"strokeWidth":2,"size":110,"opacity":1},
       "encoding":{"x":{"field":"year","type":"quantitative","scale":{"domain":[1988,2032],"nice":false,"zero":false},"axis":null},
        "y":{"field":"rate","type":"quantitative","scale":{"domain":[74,728],"range":[156,4],"nice":false,"zero":false},"axis":null},
        "stroke":{"field":"series","type":"nominal","scale":{"domain":["Cancers","Cardiovascular Diseases","Chronic Respiratory Diseases","Diabetes"],"range":["#64A31C","#E4342E","#8A21D6","#22C4C4"]},"legend":null}}},
      {"data":{"name":"goals"},"mark":{"type":"text","angle":270,"align":"right","baseline":"bottom","fontWeight":"bold","fontSize":13.5,"font":"Liberation Sans","color":"#000000","dx":-3},
       "encoding":{"x":{"field":"year","type":"quantitative","scale":{"domain":[1988,2032],"nice":false,"zero":false},"axis":null},
        "y":{"datum":728,"type":"quantitative","scale":{"domain":[74,728],"range":[156,4],"nice":false,"zero":false},"axis":null},
        "text":{"field":"goal"}}}
     ]},
    {"resolve":{"axis":{"x":"independent","y":"independent"},"legend":{"color":"independent"}},
     "layer":[
      {"data":{"name":"goals"},"mark":{"type":"rule","color":"#000000","strokeWidth":1.3},
       "encoding":{"x":{"field":"year","type":"quantitative","scale":{"domain":[1988,2032],"nice":false,"zero":false},"axis":null},
        "y":{"datum":-3.2,"type":"quantitative","scale":{"domain":[-3.2,63.7],"range":[240,163],"nice":false,"zero":false},"axis":null},
        "y2":{"datum":63.7}}},
      {"data":{"name":"md_n_fit"},"transform":[{"filter":{"field":"series","oneOf":["Chronic Respiratory Diseases","Diabetes"]}}],
       "mark":{"type":"line","strokeWidth":1.2},
       "encoding":{"x":{"field":"year","type":"quantitative","scale":{"domain":[1988,2032],"nice":false,"zero":false},
          "axis":{"orient":"bottom","offset":-4,"values":[1990,1995,2000,2005,2010,2015,2020,2025,2030],"format":"d","grid":false,"labelFontSize":14,"title":"Year","titleFontSize":19.5,"titlePadding":9.5}},
        "y":{"field":"rate","type":"quantitative","scale":{"domain":[-3.2,63.7],"range":[240,163],"nice":false,"zero":false},
          "axis":{"orient":"left","values":[0,10,20,30,40,50,60],"format":"d","labelExpr":"datum.value % 20 === 0 ? datum.label : ''","tickOpacity":{"condition":{"test":"datum.value % 20 === 0","value":1},"value":0},"grid":true,"gridWidth":{"condition":{"test":"datum.value % 20 === 0","value":1.3},"value":0.6},"labelFontSize":14,"title":null}},
        "color":{"field":"series","type":"nominal","scale":{"domain":["Cancers","Cardiovascular Diseases","Chronic Respiratory Diseases","Diabetes"],"range":["#7CAE00","#F8766D","#C77CFF","#00BFC4"]},"legend":null},
        "detail":{"field":"seg","type":"nominal"},
        "strokeDash":{"field":"part","type":"nominal","scale":{"domain":["fit","pred"],"range":[[1,0],[5,3]]},"legend":null}}},
      {"data":{"name":"md_n_obs"},"transform":[{"filter":{"field":"series","oneOf":["Chronic Respiratory Diseases","Diabetes"]}}],
       "mark":{"type":"point","filled":true,"size":18,"opacity":1},
       "encoding":{"x":{"field":"year","type":"quantitative","scale":{"domain":[1988,2032],"nice":false,"zero":false},
          "axis":{"orient":"top","values":[1990,1992.5,1995,1997.5,2000,2002.5,2005,2007.5,2010,2012.5,2015,2017.5,2020,2022.5,2025,2027.5,2030],"grid":true,"gridWidth":{"condition":{"test":"datum.value % 5 === 0","value":1.3},"value":0.6},"labels":false,"ticks":false,"domain":false,"title":null}},
        "y":{"field":"rate","type":"quantitative","scale":{"domain":[-3.2,63.7],"range":[240,163],"nice":false,"zero":false},
          "axis":{"orient":"right","values":[0,20,40,60],"format":"d","grid":false,"labelFontSize":14,"title":null}},
        "color":{"field":"series","type":"nominal","scale":{"domain":["Cancers","Cardiovascular Diseases","Chronic Respiratory Diseases","Diabetes"],"range":["#7CAE00","#F8766D","#C77CFF","#00BFC4"]},"legend":null}}},
      {"data":{"name":"md_n_ev"},"transform":[{"filter":{"field":"series","oneOf":["Chronic Respiratory Diseases","Diabetes"]}}],
       "mark":{"type":"point","filled":true,"color":"#000000","opacity":1,"size":100},
       "encoding":{"x":{"field":"year","type":"quantitative","scale":{"domain":[1988,2032],"nice":false,"zero":false},"axis":null},
        "y":{"field":"rate","type":"quantitative","scale":{"domain":[-3.2,63.7],"range":[240,163],"nice":false,"zero":false},"axis":null},
        "shape":{"field":"event","type":"nominal","scale":{"domain":["trend","level"],"range":["diamond","triangle-up"]},"legend":null}}},
      {"data":{"name":"md_n_tg"},"transform":[{"filter":{"field":"series","oneOf":["Chronic Respiratory Diseases","Diabetes"]}}],
       "mark":{"type":"point","shape":"M-1,-1L1,1M-1,1L1,-1","filled":false,"strokeWidth":2,"size":110,"opacity":1},
       "encoding":{"x":{"field":"year","type":"quantitative","scale":{"domain":[1988,2032],"nice":false,"zero":false},"axis":null},
        "y":{"field":"rate","type":"quantitative","scale":{"domain":[-3.2,63.7],"range":[240,163],"nice":false,"zero":false},"axis":null},
        "stroke":{"field":"series","type":"nominal","scale":{"domain":["Cancers","Cardiovascular Diseases","Chronic Respiratory Diseases","Diabetes"],"range":["#64A31C","#E4342E","#8A21D6","#22C4C4"]},"legend":null}}}
     ]}
   ]},
  {"width":113,"height":244,"data":{"name":"none"},"mark":"point"},

  {"width":8,"height":77,"data":{"name":"none"},"mark":"point"},
  {"width":1,"height":77,"data":{"name":"none"},"mark":"point","view":{"fill":"#BFBFBF"}},
  {"width":48,"height":77,"data":{"name":"none"},"mark":"point"},
  {"width":1,"height":77,"data":{"name":"none"},"mark":"point","view":{"fill":"#BFBFBF"}},
  {"width":74,"height":77,"data":{"name":"none"},"mark":"point"},
  {"width":441,"height":77,"data":{"name":"none"},"mark":"point"},
  {"width":76,"height":77,"data":{"name":"none"},"mark":"point"},
  {"width":1,"height":77,"data":{"name":"none"},"mark":"point","view":{"fill":"#BFBFBF"}},
  {"width":75,"height":77,"data":{"name":"none"},"mark":"point"},
  {"width":404,"height":77,"data":{"name":"none"},"mark":"point"},
  {"width":113,"height":77,"data":{"name":"none"},"mark":"point"},

  {"width":8,"height":1,"data":{"name":"none"},"mark":"point"},
  {"width":1,"height":1,"data":{"name":"none"},"mark":"point","view":{"fill":"#BFBFBF"}},
  {"width":48,"height":1,"data":{"name":"none"},"mark":"point","view":{"fill":"#BFBFBF"}},
  {"width":1,"height":1,"data":{"name":"none"},"mark":"point","view":{"fill":"#BFBFBF"}},
  {"width":74,"height":1,"data":{"name":"none"},"mark":"point","view":{"fill":"#BFBFBF"}},
  {"width":441,"height":1,"data":{"name":"none"},"mark":"point","view":{"fill":"#BFBFBF"}},
  {"width":76,"height":1,"data":{"name":"none"},"mark":"point","view":{"fill":"#BFBFBF"}},
  {"width":1,"height":1,"data":{"name":"none"},"mark":"point","view":{"fill":"#BFBFBF"}},
  {"width":75,"height":1,"data":{"name":"none"},"mark":"point","view":{"fill":"#BFBFBF"}},
  {"width":404,"height":1,"data":{"name":"none"},"mark":"point","view":{"fill":"#BFBFBF"}},
  {"width":113,"height":1,"data":{"name":"none"},"mark":"point","view":{"fill":"#BFBFBF"}},

  {"width":8,"height":39,"data":{"name":"none"},"mark":"point"},
  {"width":1,"height":39,"data":{"name":"none"},"mark":"point","view":{"fill":"#BFBFBF"}},
  {"width":48,"height":39,"data":{"name":"none"},"mark":"point"},
  {"width":1,"height":39,"data":{"name":"none"},"mark":"point","view":{"fill":"#BFBFBF"}},
  {"width":74,"height":39,"data":{"name":"none"},"mark":"point"},
  {"width":441,"height":39,"data":{"name":"none"},"mark":"point"},
  {"width":76,"height":39,"data":{"name":"none"},"mark":"point"},
  {"width":1,"height":39,"data":{"name":"none"},"mark":"point","view":{"fill":"#BFBFBF"}},
  {"width":75,"height":39,"data":{"name":"none"},"mark":"point"},
  {"width":404,"height":39,"data":{"name":"none"},"mark":"point"},
  {"width":113,"height":39,"data":{"name":"none"},"mark":"point"},

  {"width":8,"height":195,"data":{"name":"none"},"mark":"point"},
  {"width":1,"height":195,"data":{"name":"none"},"mark":"point","view":{"fill":"#BFBFBF"}},
  {"width":48,"height":195,"data":{"values":[{"t":"Russia"}]},"mark":{"type":"text","font":"Liberation Sans","fontSize":17,"fontWeight":"bold","color":"#000000","angle":270,"dx":-16.5,"align":"center","baseline":"middle"},"encoding":{"text":{"field":"t"}}},
  {"width":1,"height":195,"data":{"name":"none"},"mark":"point","view":{"fill":"#BFBFBF"}},
  {"width":74,"height":195,"data":{"name":"none"},"mark":"point"},
  {"width":441,"height":195,"view":{"fill":"#EBEBEB"},
   "resolve":{"axis":{"x":"independent","y":"independent"},"legend":{"color":"independent"}},
   "layer":[
    {"data":{"name":"goals"},"mark":{"type":"rule","color":"#000000","strokeWidth":1.3},
     "encoding":{"x":{"field":"year","type":"quantitative","scale":{"domain":[1988,2032],"nice":false,"zero":false},
       "axis":{"orient":"bottom","values":[1990,1992.5,1995,1997.5,2000,2002.5,2005,2007.5,2010,2012.5,2015,2017.5,2020,2022.5,2025,2027.5,2030],"format":"d","labelExpr":"datum.value % 5 === 0 ? datum.label : ''","tickOpacity":{"condition":{"test":"datum.value % 5 === 0","value":1},"value":0},"grid":true,"gridWidth":{"condition":{"test":"datum.value % 5 === 0","value":1.3},"value":0.6},"tickSize":3,"labelPadding":0,"labelFontSize":13,"title":"Year","titleFontSize":16,"titlePadding":0}}}},
    {"data":{"name":"ru_g_fit"},"mark":{"type":"line","strokeWidth":1.2},
     "encoding":{"x":{"field":"year","type":"quantitative","scale":{"domain":[1988,2032],"nice":false,"zero":false},"axis":null},
      "y":{"field":"rate","type":"quantitative","scale":{"domain":[-70,1585],"nice":false,"zero":false},
        "axis":{"orient":"left","values":[0,250,500,750,1000,1250,1500],"format":"d","labelExpr":"datum.value % 500 === 0 ? datum.label : ''","tickOpacity":{"condition":{"test":"datum.value % 500 === 0","value":1},"value":0},"grid":true,"gridWidth":{"condition":{"test":"datum.value % 500 === 0","value":1.3},"value":0.6},"labelFontSize":13.5,"title":"Number of deaths per 100,000","titleFontSize":15.5,"titlePadding":6.5,"titleY":89}},
      "color":{"field":"series","type":"nominal","scale":{"domain":["Overall","Males","Females"],"range":["#00BA38","#F8766D","#619CFF"]},"legend":null},
      "detail":{"field":"seg","type":"nominal"},
      "strokeDash":{"field":"part","type":"nominal","scale":{"domain":["fit","pred"],"range":[[1,0],[5,3]]},"legend":null}}},
    {"data":{"name":"ru_g_obs"},"mark":{"type":"point","filled":true,"size":18,"opacity":1},
     "encoding":{"x":{"field":"year","type":"quantitative","scale":{"domain":[1988,2032],"nice":false,"zero":false},"axis":null},
      "y":{"field":"rate","type":"quantitative","scale":{"domain":[-70,1585],"nice":false,"zero":false},"axis":null},
      "color":{"field":"series","type":"nominal","scale":{"domain":["Overall","Males","Females"],"range":["#00BA38","#F8766D","#619CFF"]},
        "legend":{"orient":"none","legendX":126,"legendY":-31.9,"direction":"horizontal","title":null,"symbolType":"M-1,-0.07H1V0.07H-1Z M-0.3,0A0.3,0.3,0,1,0,0.3,0A0.3,0.3,0,1,0,-0.3,0Z","symbolSize":300,"symbolStrokeWidth":0,"labelOffset":8,"columnPadding":11,"labelFontSize":11}}}},
    {"data":{"name":"ru_g_ev"},"mark":{"type":"point","filled":true,"color":"#000000","opacity":1,"size":100},
     "encoding":{"x":{"field":"year","type":"quantitative","scale":{"domain":[1988,2032],"nice":false,"zero":false},"axis":null},
      "y":{"field":"rate","type":"quantitative","scale":{"domain":[-70,1585],"nice":false,"zero":false},"axis":null},
      "shape":{"field":"event","type":"nominal","scale":{"domain":["trend","level"],"range":["diamond","triangle-up"]},"legend":null}}},
    {"data":{"name":"ru_g_tg"},"mark":{"type":"point","shape":"M-1,-1L1,1M-1,1L1,-1","filled":false,"strokeWidth":2,"size":110,"opacity":1},
     "encoding":{"x":{"field":"year","type":"quantitative","scale":{"domain":[1988,2032],"nice":false,"zero":false},"axis":null},
      "y":{"field":"rate","type":"quantitative","scale":{"domain":[-70,1585],"nice":false,"zero":false},"axis":null},
      "stroke":{"field":"series","type":"nominal","scale":{"domain":["Overall","Males","Females"],"range":["#3E9B22","#EE7D1E","#2F86E6"]},"legend":null}}},
    {"data":{"name":"goals"},"mark":{"type":"text","angle":270,"align":"right","baseline":"bottom","fontWeight":"bold","fontSize":10.5,"font":"Liberation Sans","color":"#000000","dx":-3},
     "encoding":{"x":{"field":"year","type":"quantitative","scale":{"domain":[1988,2032],"nice":false,"zero":false},"axis":null},
      "y":{"datum":1585,"type":"quantitative","scale":{"domain":[-70,1585],"nice":false,"zero":false},"axis":null},
      "text":{"field":"goal"}}}
   ]},
  {"width":76,"height":195,"data":{"name":"none"},"mark":"point"},
  {"width":1,"height":195,"data":{"name":"none"},"mark":"point","view":{"fill":"#BFBFBF"}},
  {"width":75,"height":195,"data":{"name":"none"},"mark":"point"},
  {"width":404,"height":195,"view":{"fill":"#EBEBEB"},
   "resolve":{"scale":{"y":"independent"},"axis":{"x":"independent","y":"independent"},"legend":{"color":"independent"}},
   "layer":[
    {"data":{"values":[{"part":"gap"}]},"mark":{"type":"rect","color":"#FFFFFF"},
     "encoding":{"y":{"datum":63.5,"type":"quantitative","scale":{"domain":[-3.9,63.5],"range":[195,132],"nice":false,"zero":false},"axis":null},"y2":{"datum":69.9}}},
    {"data":{"name":"goals"},"mark":{"type":"rule","color":"#000000","strokeWidth":1.3},
     "encoding":{"x":{"field":"year","type":"quantitative","scale":{"domain":[1988,2032],"nice":false,"zero":false},"axis":null}}},
    {"resolve":{"axis":{"x":"independent","y":"independent"},"legend":{"color":"independent"}},
     "layer":[
      {"data":{"name":"ru_n_fit"},"transform":[{"filter":{"field":"series","oneOf":["Cancers","Cardiovascular Diseases"]}}],
       "mark":{"type":"line","strokeWidth":1.2},
       "encoding":{"x":{"field":"year","type":"quantitative","scale":{"domain":[1988,2032],"nice":false,"zero":false},
          "axis":{"orient":"top","values":[1990,1992.5,1995,1997.5,2000,2002.5,2005,2007.5,2010,2012.5,2015,2017.5,2020,2022.5,2025,2027.5,2030],"grid":true,"gridWidth":{"condition":{"test":"datum.value % 5 === 0","value":1.3},"value":0.6},"labels":false,"ticks":false,"domain":false,"title":null}},
        "y":{"field":"rate","type":"quantitative","scale":{"domain":[70,763],"range":[126,0],"nice":false,"zero":false},
          "axis":{"orient":"left","values":[100,200,300,400,500,600,700],"format":"d","labelExpr":"datum.value % 200 === 0 ? datum.label : ''","tickOpacity":{"condition":{"test":"datum.value % 200 === 0","value":1},"value":0},"grid":true,"gridWidth":{"condition":{"test":"datum.value % 200 === 0","value":1.3},"value":0.6},"labelFontSize":14,"title":"Number of deaths per 100,000","titleFontSize":16,"titlePadding":13,"titleY":86.5}},
        "color":{"field":"series","type":"nominal","scale":{"domain":["Cancers","Cardiovascular Diseases","Chronic Respiratory Diseases","Diabetes"],"range":["#7CAE00","#F8766D","#C77CFF","#00BFC4"]},"legend":null},
        "detail":{"field":"seg","type":"nominal"},
        "strokeDash":{"field":"part","type":"nominal","scale":{"domain":["fit","pred"],"range":[[1,0],[5,3]]},"legend":null}}},
      {"data":{"name":"ru_n_obs"},"transform":[{"filter":{"field":"series","oneOf":["Cancers","Cardiovascular Diseases"]}}],
       "mark":{"type":"point","filled":true,"size":18,"opacity":1},
       "encoding":{"x":{"field":"year","type":"quantitative","scale":{"domain":[1988,2032],"nice":false,"zero":false},"axis":null},
        "y":{"field":"rate","type":"quantitative","scale":{"domain":[70,763],"range":[126,0],"nice":false,"zero":false},
          "axis":{"orient":"right","values":[200,400,600],"format":"d","grid":false,"labelFontSize":14,"title":null}},
        "color":{"field":"series","type":"nominal","scale":{"domain":["Cancers","Cardiovascular Diseases","Chronic Respiratory Diseases","Diabetes"],"range":["#7CAE00","#F8766D","#C77CFF","#00BFC4"]},
          "legend":{"orient":"none","legendX":-29,"legendY":-31.7,"direction":"horizontal","title":null,"symbolType":"M-1,-0.07H1V0.07H-1Z M-0.3,0A0.3,0.3,0,1,0,0.3,0A0.3,0.3,0,1,0,-0.3,0Z","symbolSize":300,"symbolStrokeWidth":0,"labelOffset":9,"columnPadding":11,"labelFontSize":11}}}},
      {"data":{"name":"ru_n_ev"},"transform":[{"filter":{"field":"series","oneOf":["Cancers","Cardiovascular Diseases"]}}],
       "mark":{"type":"point","filled":true,"color":"#000000","opacity":1,"size":100},
       "encoding":{"x":{"field":"year","type":"quantitative","scale":{"domain":[1988,2032],"nice":false,"zero":false},"axis":null},
        "y":{"field":"rate","type":"quantitative","scale":{"domain":[70,763],"range":[126,0],"nice":false,"zero":false},"axis":null},
        "shape":{"field":"event","type":"nominal","scale":{"domain":["trend","level"],"range":["diamond","triangle-up"]},"legend":null}}},
      {"data":{"name":"ru_n_tg"},"transform":[{"filter":{"field":"series","oneOf":["Cancers","Cardiovascular Diseases"]}}],
       "mark":{"type":"point","shape":"M-1,-1L1,1M-1,1L1,-1","filled":false,"strokeWidth":2,"size":110,"opacity":1},
       "encoding":{"x":{"field":"year","type":"quantitative","scale":{"domain":[1988,2032],"nice":false,"zero":false},"axis":null},
        "y":{"field":"rate","type":"quantitative","scale":{"domain":[70,763],"range":[126,0],"nice":false,"zero":false},"axis":null},
        "stroke":{"field":"series","type":"nominal","scale":{"domain":["Cancers","Cardiovascular Diseases","Chronic Respiratory Diseases","Diabetes"],"range":["#64A31C","#E4342E","#8A21D6","#22C4C4"]},"legend":null}}},
      {"data":{"name":"goals"},"mark":{"type":"text","angle":270,"align":"right","baseline":"bottom","fontWeight":"bold","fontSize":10,"font":"Liberation Sans","color":"#000000","dx":-3},
       "encoding":{"x":{"field":"year","type":"quantitative","scale":{"domain":[1988,2032],"nice":false,"zero":false},"axis":null},
        "y":{"datum":763,"type":"quantitative","scale":{"domain":[70,763],"range":[126,0],"nice":false,"zero":false},"axis":null},
        "text":{"field":"goal"}}}
     ]},
    {"resolve":{"axis":{"x":"independent","y":"independent"},"legend":{"color":"independent"}},
     "layer":[
      {"data":{"name":"ru_n_fit"},"transform":[{"filter":{"field":"series","oneOf":["Chronic Respiratory Diseases","Diabetes"]}}],
       "mark":{"type":"line","strokeWidth":1.2},
       "encoding":{"x":{"field":"year","type":"quantitative","scale":{"domain":[1988,2032],"nice":false,"zero":false},
          "axis":{"orient":"bottom","values":[1990,1995,2000,2005,2010,2015,2020,2025,2030],"format":"d","grid":false,"tickSize":3,"labelPadding":0,"labelFontSize":14,"title":"Year","titleFontSize":18,"titlePadding":7}},
        "y":{"field":"rate","type":"quantitative","scale":{"domain":[-3.9,63.5],"range":[195,132],"nice":false,"zero":false},
          "axis":{"orient":"left","values":[0,10,20,30,40,50,60],"format":"d","labelExpr":"datum.value % 20 === 0 ? datum.label : ''","tickOpacity":{"condition":{"test":"datum.value % 20 === 0","value":1},"value":0},"grid":true,"gridWidth":{"condition":{"test":"datum.value % 20 === 0","value":1.3},"value":0.6},"labelFontSize":14,"title":null}},
        "color":{"field":"series","type":"nominal","scale":{"domain":["Cancers","Cardiovascular Diseases","Chronic Respiratory Diseases","Diabetes"],"range":["#7CAE00","#F8766D","#C77CFF","#00BFC4"]},"legend":null},
        "detail":{"field":"seg","type":"nominal"},
        "strokeDash":{"field":"part","type":"nominal","scale":{"domain":["fit","pred"],"range":[[1,0],[5,3]]},"legend":null}}},
      {"data":{"name":"ru_n_obs"},"transform":[{"filter":{"field":"series","oneOf":["Chronic Respiratory Diseases","Diabetes"]}}],
       "mark":{"type":"point","filled":true,"size":18,"opacity":1},
       "encoding":{"x":{"field":"year","type":"quantitative","scale":{"domain":[1988,2032],"nice":false,"zero":false},
          "axis":{"orient":"top","values":[1990,1992.5,1995,1997.5,2000,2002.5,2005,2007.5,2010,2012.5,2015,2017.5,2020,2022.5,2025,2027.5,2030],"grid":true,"gridWidth":{"condition":{"test":"datum.value % 5 === 0","value":1.3},"value":0.6},"labels":false,"ticks":false,"domain":false,"title":null}},
        "y":{"field":"rate","type":"quantitative","scale":{"domain":[-3.9,63.5],"range":[195,132],"nice":false,"zero":false},
          "axis":{"orient":"right","values":[0,20,40,60],"format":"d","grid":false,"labelFontSize":14,"title":null}},
        "color":{"field":"series","type":"nominal","scale":{"domain":["Cancers","Cardiovascular Diseases","Chronic Respiratory Diseases","Diabetes"],"range":["#7CAE00","#F8766D","#C77CFF","#00BFC4"]},"legend":null}}},
      {"data":{"name":"ru_n_ev"},"transform":[{"filter":{"field":"series","oneOf":["Chronic Respiratory Diseases","Diabetes"]}}],
       "mark":{"type":"point","filled":true,"color":"#000000","opacity":1,"size":100},
       "encoding":{"x":{"field":"year","type":"quantitative","scale":{"domain":[1988,2032],"nice":false,"zero":false},"axis":null},
        "y":{"field":"rate","type":"quantitative","scale":{"domain":[-3.9,63.5],"range":[195,132],"nice":false,"zero":false},"axis":null},
        "shape":{"field":"event","type":"nominal","scale":{"domain":["trend","level"],"range":["diamond","triangle-up"]},"legend":null}}},
      {"data":{"name":"ru_n_tg"},"transform":[{"filter":{"field":"series","oneOf":["Chronic Respiratory Diseases","Diabetes"]}}],
       "mark":{"type":"point","shape":"M-1,-1L1,1M-1,1L1,-1","filled":false,"strokeWidth":2,"size":110,"opacity":1},
       "encoding":{"x":{"field":"year","type":"quantitative","scale":{"domain":[1988,2032],"nice":false,"zero":false},"axis":null},
        "y":{"field":"rate","type":"quantitative","scale":{"domain":[-3.9,63.5],"range":[195,132],"nice":false,"zero":false},"axis":null},
        "stroke":{"field":"series","type":"nominal","scale":{"domain":["Cancers","Cardiovascular Diseases","Chronic Respiratory Diseases","Diabetes"],"range":["#64A31C","#E4342E","#8A21D6","#22C4C4"]},"legend":null}}}
     ]}
   ]},
  {"width":113,"height":195,"data":{"name":"none"},"mark":"point"},

  {"width":8,"height":64,"data":{"name":"none"},"mark":"point"},
  {"width":1,"height":64,"data":{"name":"none"},"mark":"point","view":{"fill":"#BFBFBF"}},
  {"width":48,"height":64,"data":{"name":"none"},"mark":"point"},
  {"width":1,"height":64,"data":{"name":"none"},"mark":"point","view":{"fill":"#BFBFBF"}},
  {"width":74,"height":64,"data":{"name":"none"},"mark":"point"},
  {"width":441,"height":64,"data":{"name":"none"},"mark":"point"},
  {"width":76,"height":64,"data":{"name":"none"},"mark":"point"},
  {"width":1,"height":64,"data":{"name":"none"},"mark":"point","view":{"fill":"#BFBFBF"}},
  {"width":75,"height":64,"data":{"name":"none"},"mark":"point"},
  {"width":404,"height":64,"data":{"name":"none"},"mark":"point"},
  {"width":113,"height":64,"data":{"name":"none"},"mark":"point"}
]
}
